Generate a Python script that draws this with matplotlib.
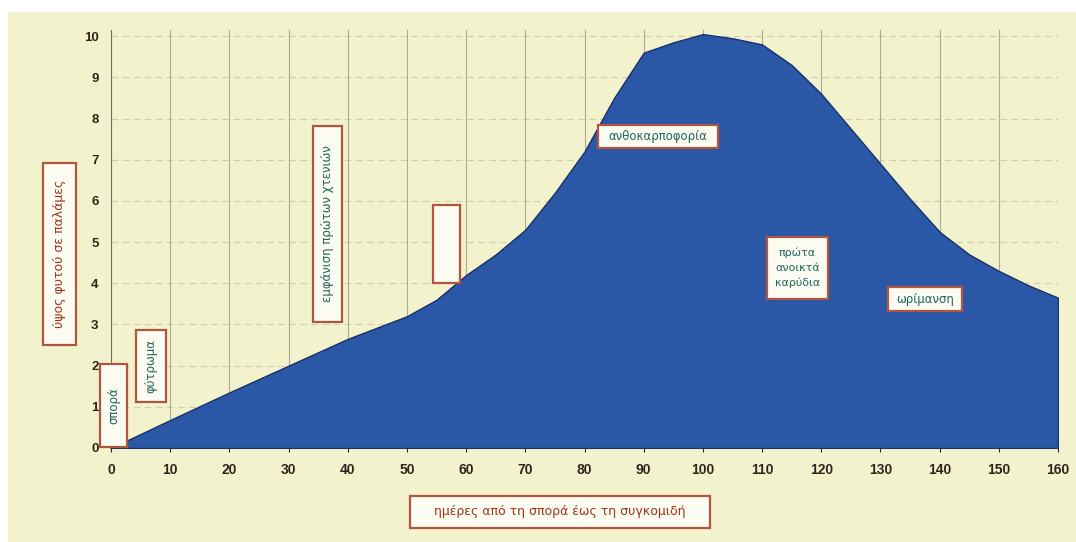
import matplotlib
matplotlib.use('Agg')
import matplotlib.pyplot as plt
from matplotlib.patches import Rectangle

# ---- data ----
days = [0, 10, 20, 30, 40, 50, 55, 60, 65, 70, 75, 80, 85, 90, 95, 100,
        105, 110, 115, 120, 125, 130, 135, 140, 145, 150, 155, 160]
values = [0, 0.68, 1.35, 2.0, 2.65, 3.2, 3.6, 4.2, 4.7, 5.3, 6.2, 7.2, 8.5, 9.6, 9.85, 10.05,
          9.95, 9.8, 9.3, 8.6, 7.75, 6.9, 6.05, 5.25, 4.7, 4.3, 3.95, 3.65]
x_ticks = list(range(0, 161, 10))
y_ticks = list(range(0, 11))
x_label = "ημέρες από τη σπορά έως τη συγκομιδή"
y_label = "ύψος φυτού σε παλάμες"
stage_labels = ["σπορά", "φύτρωμα", "εμφάνιση πρώτων χτενιών", "",
                "ανθοκαρποφορία", "πρώτα\nανοικτά\nκαρύδια", "ωρίμανση"]

W, H = 1076, 542
fig = plt.figure(figsize=(W / 100, H / 100), dpi=100, facecolor='white')
fig.patches.append(Rectangle((8 / W, 0), 1 - 8 / W, (H - 12) / H,
                             transform=fig.transFigure, facecolor='#f2f3cd',
                             edgecolor='none', zorder=-10))

ax = fig.add_axes([111 / W, (H - 448) / H, (1058 - 111) / W, (448 - 30) / H])
ax.set_zorder(1)
ax.set_facecolor('none')
ax.fill_between(days, values, 0, facecolor='#2b58a6', edgecolor='#1b2f6b',
                linewidth=1.0, zorder=3)
ax.set_xlim(0, 160)
ax.set_ylim(0, 10.15)
ax.set_xticks(x_ticks)
ax.set_yticks(y_ticks)
for t in x_ticks:
    ax.axvline(t, color='#7c7c6e', linewidth=0.8, alpha=0.6, zorder=1)
for t in y_ticks[1:]:
    ax.axhline(t, color='#9a9a88', linewidth=0.8, alpha=0.4, linestyle=(0, (6, 4)), zorder=1)
for s in ['top', 'right']:
    ax.spines[s].set_visible(False)
ax.spines['left'].set_color('#6f6f62')
ax.spines['bottom'].set_color('#3a3a3a')
ax.spines['bottom'].set_linewidth(1.2)
ax.tick_params(axis='x', length=3, pad=8, colors='#33241a', labelsize=10)
ax.tick_params(axis='y', length=0, pad=9, colors='#33241a', labelsize=9.5)
for lab in ax.get_xticklabels() + ax.get_yticklabels():
    lab.set_fontfamily('Liberation Sans')
    lab.set_fontweight('bold')

BOX_EDGE = '#b0563f'
BOX_FACE = '#fbfbf1'
TEAL = '#1f665e'
RED = '#a0341c'


def box(x0, y0, x1, y1, text, rot=0, color=TEAL, fs=8.5, ls=1.2):
    fig.add_artist(Rectangle((x0 / W, 1 - y1 / H), (x1 - x0) / W, (y1 - y0) / H,
                             transform=fig.transFigure, facecolor=BOX_FACE,
                             edgecolor=BOX_EDGE, linewidth=1.6, zorder=10))
    if text:
        fig.text((x0 + x1) / 2 / W, 1 - (y0 + y1) / 2 / H, text, rotation=rot,
                 ha='center', va='center', color=color, fontsize=fs,
                 linespacing=ls, zorder=11)


box(43, 163, 76, 345, y_label, rot=90, color=RED, fs=9)
box(100, 364, 127, 447, stage_labels[0], rot=90, fs=8.5)
box(136, 330, 166, 402, stage_labels[1], rot=90, fs=8.5)
box(313, 126, 342, 322, stage_labels[2], rot=90, fs=8.5)
box(433, 205, 460, 283, stage_labels[3], rot=90, fs=8.5)
box(598, 125, 718, 148, stage_labels[4], fs=8.5)
box(767, 237, 828, 299, stage_labels[5], fs=8, ls=1.6)
box(888, 287, 962, 311, stage_labels[6], fs=8.5)
box(410, 496, 710, 528, x_label, color=RED, fs=9)

fig.savefig('out.png', dpi=100, facecolor=fig.get_facecolor())
